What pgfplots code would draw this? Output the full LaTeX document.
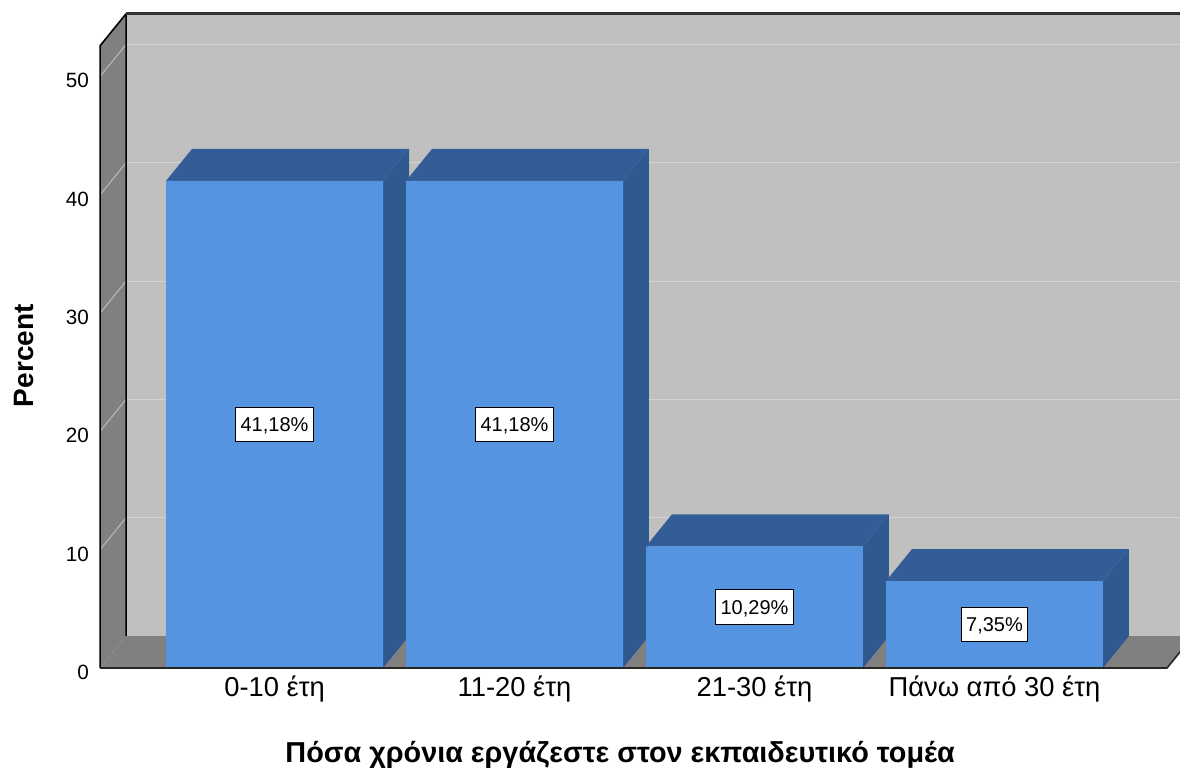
\documentclass[border=0pt]{standalone}
\usepackage{fontspec}
\setmainfont{Liberation Sans}
\usepackage{pgfplots}
\usepackage{pgfplotstable}
\pgfplotsset{compat=1.18}

% percentage of respondents per group of years in education
\pgfplotstableread{
idx value
0 41.18
1 41.18
2 10.29
3 7.35
}\bardata

\definecolor{wallback}{RGB}{192,192,192}
\definecolor{wallside}{RGB}{128,128,128}
\definecolor{gridback}{RGB}{212,212,212}
\definecolor{gridside}{RGB}{185,185,185}
\definecolor{barfront}{RGB}{84,148,224}
\definecolor{bartop}{RGB}{51,93,150}
\definecolor{barside}{RGB}{48,89,144}

% geometry of the 3D box (axis units)
\def\hw{0.452}    % half bar width
\def\dX{0.1083}   % depth offset, x
\def\dY{2.705}    % depth offset, y
\def\xf{-0.727}   % front edge of the left wall
\def\xb{-0.6187}  % back edge of the left wall
\def\wtop{52.6}   % wall height
\def\xr{3.95}     % right end of the back wall

\begin{document}
\begin{tikzpicture}
\begin{axis}[
  x=180pt, y=8.8725pt,
  xmin=-0.727, xmax=3.773, ymin=0, ymax=55.3,
  clip=false,
  axis line style={draw=none},
  major tick length=0pt,
  tick style={draw=none},
  ytick={0,10,...,50},
  xtick={0,1,2,3},
  xticklabels={0-10 έτη, 11-20 έτη, 21-30 έτη, Πάνω από 30 έτη},
  /pgf/number format/assume math mode=true,
  yticklabel style={anchor=base east, inner sep=0pt, xshift=-8.25pt, yshift=-8.6pt,
    font=\fontsize{15.5}{15.5}\selectfont},
  xticklabel style={anchor=base, inner sep=0pt, yshift=-21.75pt,
    font=\fontsize{20.5}{20.5}\selectfont},
]
% back wall
\fill[wallback] (axis cs:\xb,\dY) rectangle (axis cs:\xr,{\wtop+\dY});
% grid on the back wall and the left wall
\pgfplotsinvokeforeach{10,20,30,40,50}{
  \draw[gridback, line width=0.8pt] (axis cs:\xb,{#1+\dY}) -- (axis cs:\xr,{#1+\dY});
}
% left wall
\fill[wallside] (axis cs:\xf,0) -- (axis cs:\xf,\wtop) -- (axis cs:\xb,{\wtop+\dY}) -- (axis cs:\xb,\dY) -- cycle;
\pgfplotsinvokeforeach{10,20,30,40,50}{
  \draw[gridside, line width=0.8pt] (axis cs:\xf,#1) -- (axis cs:\xb,{#1+\dY});
}
\draw[black, line width=1.2pt, line join=round] (axis cs:\xf,0) -- (axis cs:\xf,\wtop) -- (axis cs:\xb,{\wtop+\dY}) -- (axis cs:\xb,\dY);
\draw[black!80, line width=2pt] (axis cs:\xb,{\wtop+\dY}) -- (axis cs:\xr,{\wtop+\dY});
% floor
\fill[wallside] (axis cs:\xf,0) -- (axis cs:3.719,0) -- (axis cs:{3.719+\dX},\dY) -- (axis cs:\xb,\dY) -- cycle;

% tops and sides of the bars
\pgfplotsinvokeforeach{0,1,2,3}{%
  \pgfplotstablegetelem{#1}{value}\of\bardata
  \let\bval\pgfplotsretval
  \pgfmathsetmacro\xlft{#1-\hw}%
  \pgfmathsetmacro\xrgt{#1+\hw}%
  \pgfmathsetmacro\xlftb{#1-\hw+\dX}%
  \pgfmathsetmacro\xrgtb{#1+\hw+\dX}%
  \pgfmathsetmacro\bvalb{\bval+\dY}%
  \edef\doplot{%
    \noexpand\addplot[fill=bartop, draw=none] coordinates
      {(\xlft,\bval) (\xrgt,\bval) (\xrgtb,\bvalb) (\xlftb,\bvalb)} -- cycle;
    \noexpand\addplot[fill=barside, draw=none] coordinates
      {(\xrgt,0) (\xrgtb,\dY) (\xrgtb,\bvalb) (\xrgt,\bval)} -- cycle;
  }%
  \doplot
}
% front faces
\addplot[ybar, bar width=0.904, bar shift=0pt, fill=barfront, draw=none]
  table[x=idx, y=value]{\bardata};
% front edge of the floor
\draw[black!85, line width=1.2pt, line join=round] (axis cs:\xf,0) -- (axis cs:3.719,0) -- (axis cs:{3.719+\dX},\dY);
% value labels
\addplot[draw=none, mark=none, point meta=explicit,
  nodes near coords={\pgfmathprintnumber[fixed, fixed zerofill, precision=2, use comma]{\pgfplotspointmeta}\%},
  nodes near coords align={center},
  every node near coord/.append style={draw=black, fill=white, text=black, line width=0.8pt,
    font=\fontsize{15}{15}\selectfont, text height=10.8pt, text depth=0pt,
    minimum height=26pt, inner ysep=0pt, inner xsep=3.5pt}]
  table[x=idx, y expr=\thisrow{value}/2, meta=value]{\bardata};
% axis titles
\node[rotate=90, anchor=base, font=\bfseries\fontsize{21}{21}\selectfont]
  at (axis cs:-1.006,26.4) {Percent};
\node[anchor=base, font=\bfseries\fontsize{21.6}{21.6}\selectfont]
  at (axis cs:1.44,-7.95) {Πόσα χρόνια εργάζεστε στον εκπαιδευτικό τομέα};
\coordinate (bbl) at (axis cs:-1.144,-8.96);
\coordinate (btr) at (axis cs:3.773,56.47);
\end{axis}
\pgfresetboundingbox
\path[use as bounding box] (bbl) rectangle (btr);
\end{tikzpicture}
\end{document}
